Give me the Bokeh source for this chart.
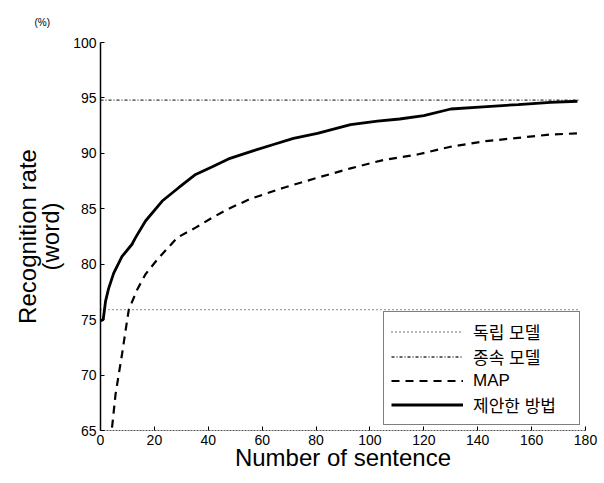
from bokeh.plotting import figure
from bokeh.models import Range1d, FixedTicker, Legend, LegendItem, Title
from bokeh.embed import file_html
from bokeh.resources import INLINE

# ---- data ----
x_ticks = [0, 20, 40, 60, 80, 100, 120, 140, 160, 180]
y_ticks = [65, 70, 75, 80, 85, 90, 95, 100]

independent_level = 75.9   # 독립 모델
dependent_level = 94.8     # 종속 모델
level_x = [0, 178]

proposed_x = [0, 1, 1.9, 3, 4.9, 8, 11.7, 13, 16.7, 22.9, 29, 35.3, 41.5, 47.5,
              56.3, 64.2, 71.6, 80.5, 92.8, 102.8, 111, 120, 130, 142, 155, 167, 177]
proposed_y = [74.9, 75.0, 76.7, 77.8, 79.2, 80.7, 81.8, 82.4, 83.9, 85.7, 86.9, 88.1,
              88.8, 89.5, 90.2, 90.8, 91.35, 91.8, 92.6, 92.9, 93.1, 93.4, 94.0, 94.2,
              94.4, 94.6, 94.7]

map_x = [4.0, 4.3, 5.6, 6.8, 8.0, 9.3, 10.5, 13.6, 16.7, 21, 28.5, 35.3, 41.5, 47.5,
         55.7, 68, 80.5, 92.8, 105, 117.6, 130, 143, 155, 167, 177]
map_y = [64.0, 65.3, 68.3, 70.1, 71.9, 74.0, 75.9, 77.7, 79.1, 80.4, 82.4, 83.3, 84.2,
         85.0, 85.9, 86.9, 87.8, 88.65, 89.4, 89.9, 90.6, 91.1, 91.4, 91.7, 91.8]

labels = ["독립 모델", "종속 모델", "MAP", "제안한 방법"]
unit_text = "(%)"

FONT = "Liberation Sans"
LEG_FONT = "'Liberation Sans', 'Noto Sans CJK KR'"

p = figure(width=600, height=480, output_backend="svg", toolbar_location=None,
           x_range=Range1d(0, 180), y_range=Range1d(65, 100))
p.min_border_left = 100
p.min_border_right = 15
p.min_border_top = 41
p.min_border_bottom = 50
p.outline_line_color = None
p.xgrid.visible = False
p.ygrid.visible = False
p.background_fill_color = "white"
p.border_fill_color = "white"

r_ind = p.line(level_x, [independent_level, independent_level], line_color="#444444",
               line_width=1.3, line_dash="1 3")
r_dep = p.line(level_x, [dependent_level, dependent_level], line_color="#333333",
               line_width=1.3, line_dash="3 2 1 2")
r_map = p.line(map_x, map_y, line_color="black", line_width=2.2, line_dash="8 6")
r_pro = p.line(proposed_x, proposed_y, line_color="black", line_width=2.8)

# axes
p.xaxis.ticker = FixedTicker(ticks=x_ticks)
p.yaxis.ticker = FixedTicker(ticks=y_ticks)
for ax in (p.xaxis, p.yaxis):
    ax.major_tick_in = 4
    ax.major_tick_out = 0
    ax.minor_tick_line_color = None
    ax.major_label_text_font = FONT
    ax.major_label_text_font_size = "14px"
    ax.major_label_text_color = "black"
    ax.axis_label_text_font = FONT
    ax.axis_label_text_font_style = "normal"
    ax.axis_label_text_color = "black"
    ax.major_tick_line_color = "black"
p.yaxis.axis_line_width = 1.5
p.yaxis.axis_line_color = "black"
p.xaxis.axis_line_width = 1.2
p.xaxis.axis_line_color = "#555555"
p.xaxis.axis_line_dash = "2 1"
p.xaxis.axis_label = "Number of sentence"
p.xaxis.axis_label_text_font_size = "24px"
p.xaxis.major_label_standoff = 4
p.xaxis.axis_label_standoff = -4
p.yaxis.axis_label = "Recognition rate\n(word)"
p.yaxis.axis_label_text_font_size = "24px"
p.yaxis.axis_label_text_line_height = 0.85
p.yaxis.major_label_standoff = 4
p.yaxis.axis_label_standoff = 6

legend = Legend(items=[
    LegendItem(label=labels[0], renderers=[r_ind]),
    LegendItem(label=labels[1], renderers=[r_dep]),
    LegendItem(label=labels[2], renderers=[r_map]),
    LegendItem(label=labels[3], renderers=[r_pro]),
], location="bottom_right")
legend.margin = 5
legend.padding = 7
legend.spacing = 0
legend.glyph_width = 72
legend.glyph_height = 23
legend.label_height = 23
legend.label_width = 99
legend.label_standoff = 10
legend.label_text_font = LEG_FONT
legend.label_text_font_size = "17px"
legend.label_text_line_height = 1.0
legend.label_text_color = "black"
legend.border_line_color = "black"
legend.border_line_width = 1.2
legend.background_fill_alpha = 1.0
p.add_layout(legend)

unit = Title(text=unit_text, align="left", offset=-66, text_font=FONT,
             text_font_size="10px", text_font_style="normal", text_color="black",
             standoff=29)
p.add_layout(unit, "above")

open("out.html", "w").write(file_html(p, INLINE))
